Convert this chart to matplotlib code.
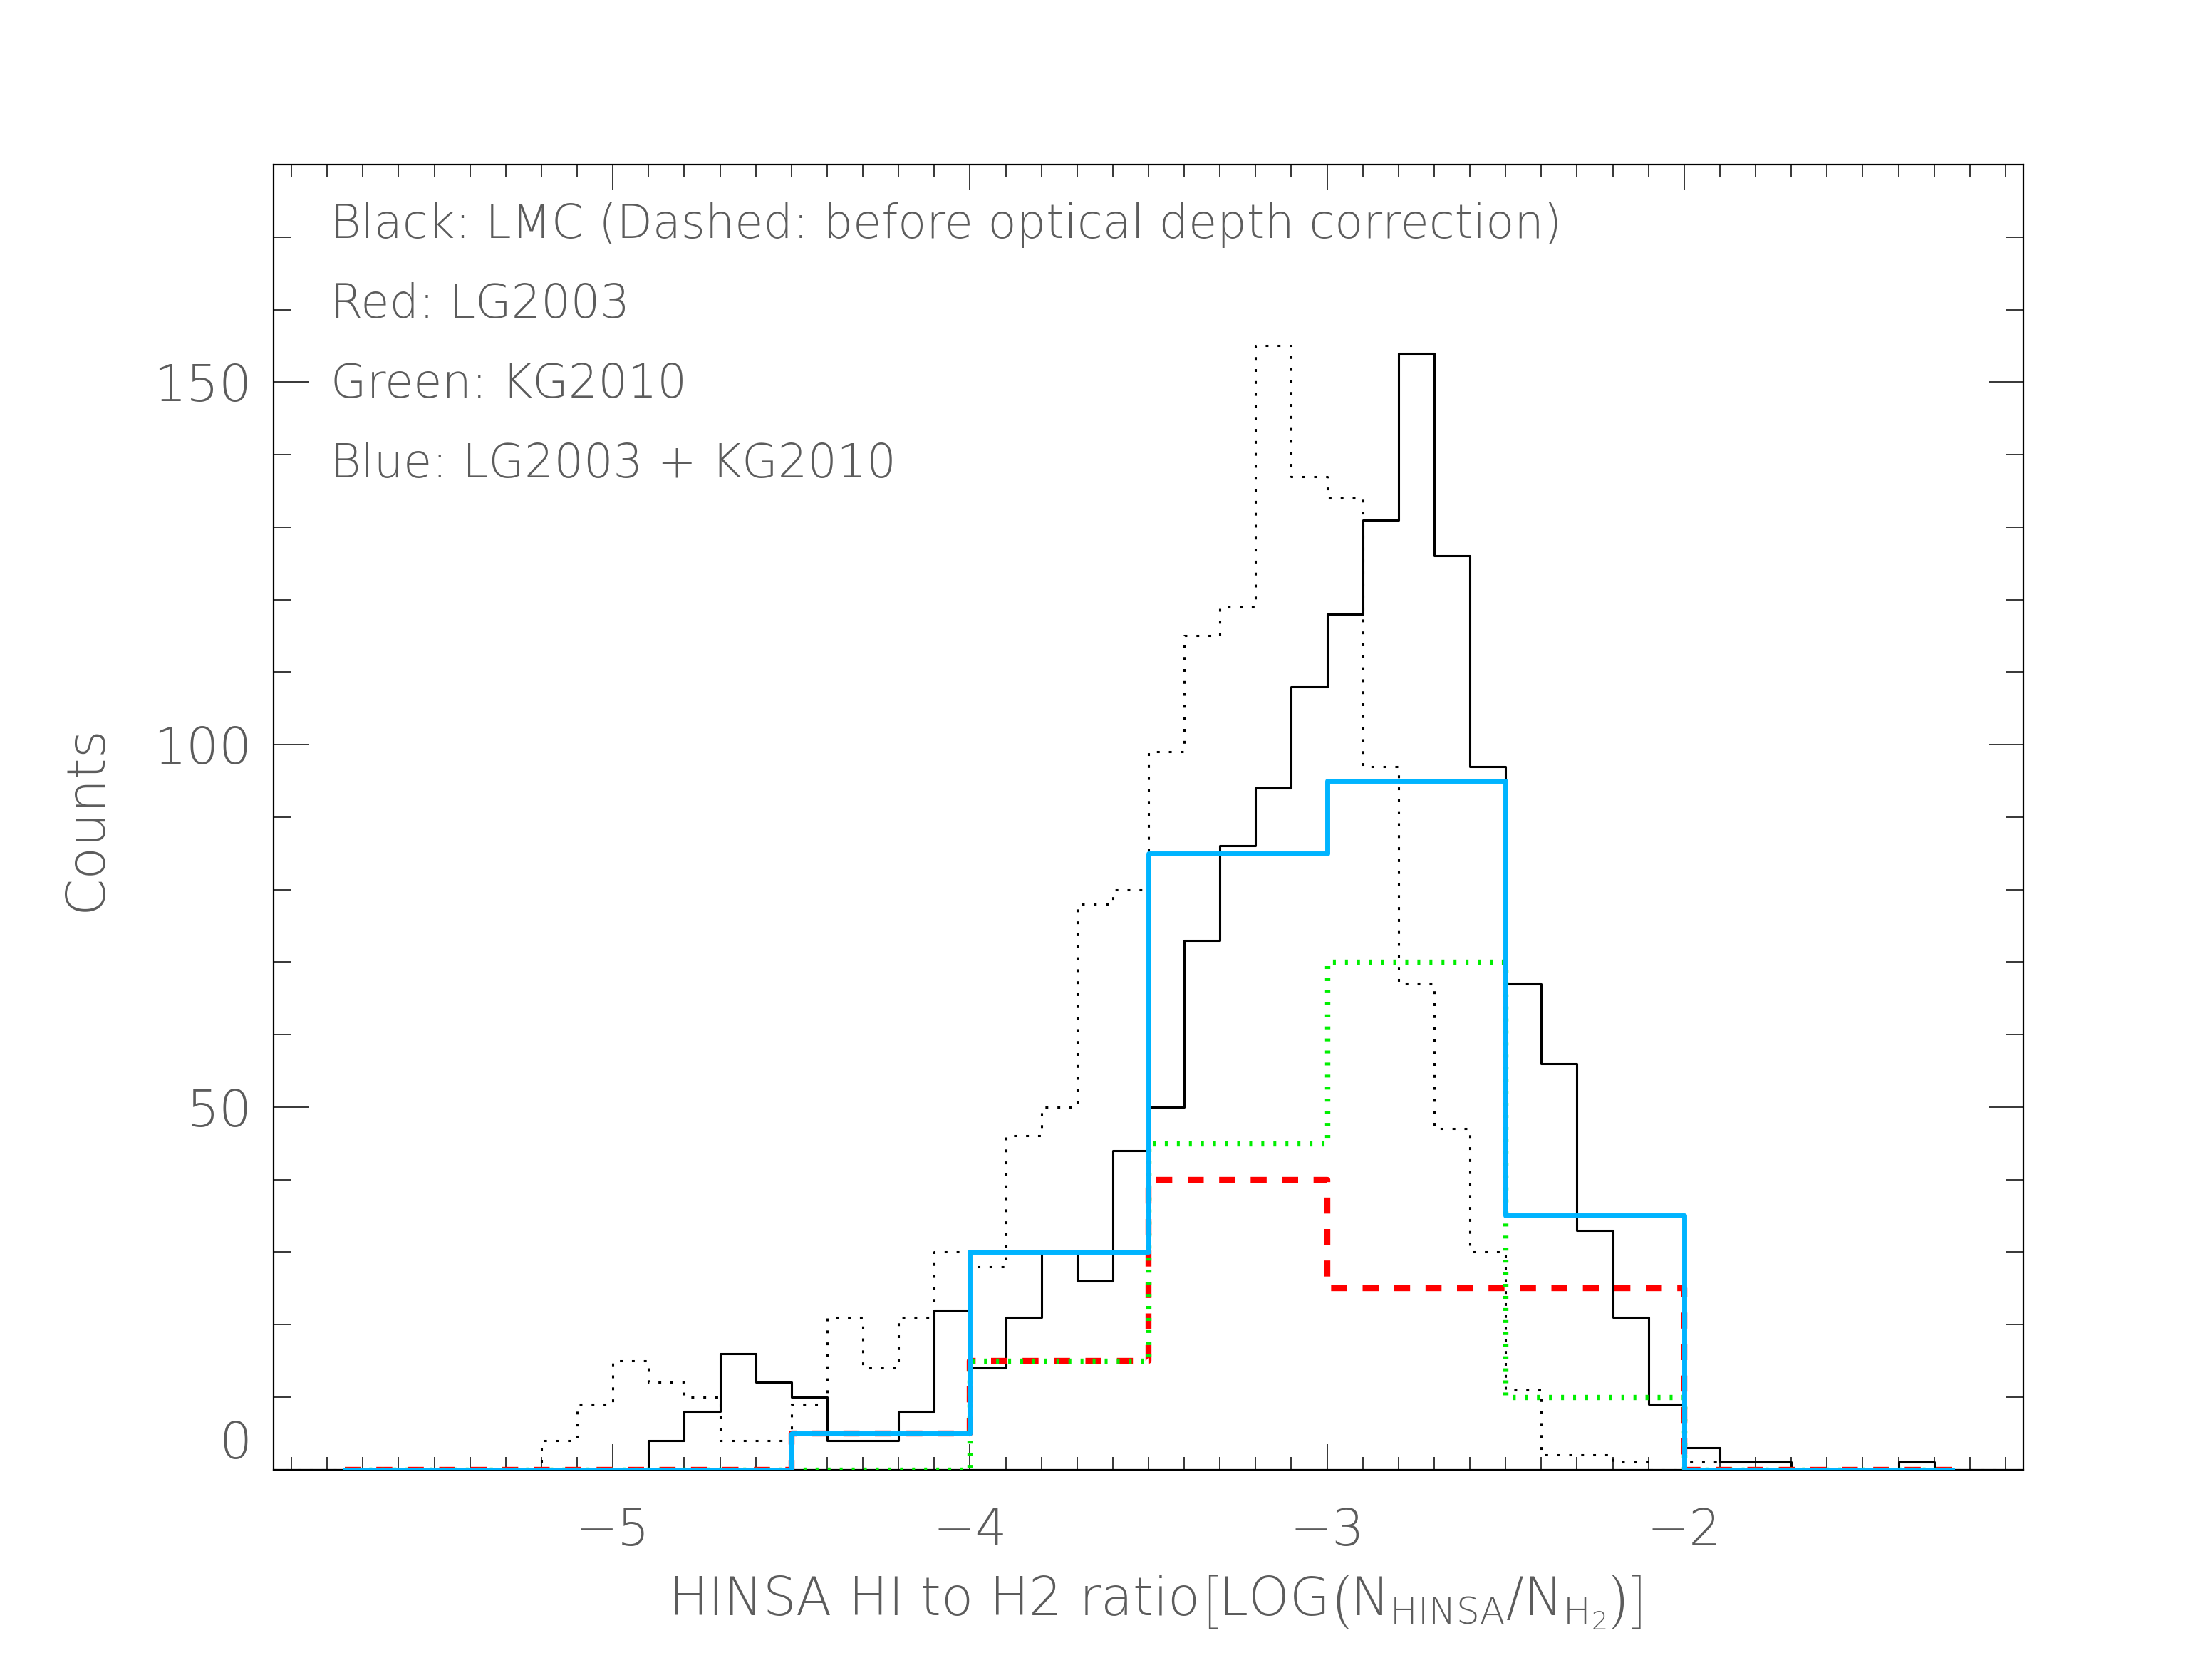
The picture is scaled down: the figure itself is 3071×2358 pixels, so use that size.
import numpy as np
import matplotlib
matplotlib.use("Agg")
import matplotlib.pyplot as plt
from matplotlib.ticker import MultipleLocator

# ---------------- data ----------------
# fine bins (0.1 dex), bin centres
lmc_centers = np.round(np.arange(-5.95, -1.0, 0.1), 2)
lmc_counts = [0, 0, 0, 0, 0, 0, 0, 0, 0, 0, 0,
              4, 8, 16, 12, 10, 4, 4, 8, 22, 14,
              21, 30, 26, 44, 50, 73, 86, 94, 108, 118,
              131, 154, 126, 97, 67, 56, 33, 21, 9, 3,
              1, 1, 0, 0, 0, 1, 0, 0, 0]
lmc_before_counts = [0, 0, 0, 0, 0, 0, 0, 0, 4, 9, 15,
                     12, 10, 4, 4, 9, 21, 14, 21, 30, 28,
                     46, 50, 78, 80, 99, 115, 119, 155, 137, 134,
                     97, 67, 47, 30, 11, 2, 2, 1, 0, 1,
                     0, 0, 0, 0, 0, 0, 0, 0, 0]

# coarse bins (0.5 dex), bin centres
coarse_centers = [-5.75, -5.25, -4.75, -4.25, -3.75, -3.25, -2.75, -2.25, -1.75, -1.25]
lg2003_counts = [0, 0, 0, 5, 15, 40, 25, 25, 0, 0]
kg2010_counts = [0, 0, 0, 0, 15, 45, 70, 10, 0, 0]
combined_counts = [0, 0, 0, 5, 30, 85, 95, 35, 0, 0]

legend_lines = ["Black: LMC (Dashed: before optical depth correction)",
                "Red: LG2003",
                "Green: KG2010",
                "Blue: LG2003 + KG2010"]

# ---------------- style ----------------
FONT = "DejaVu Sans"
TXT = "#5c5c5c"
WT = 200
plt.rcParams["font.family"] = [FONT]
plt.rcParams["font.weight"] = WT
plt.rcParams["mathtext.fontset"] = "custom"
plt.rcParams["mathtext.rm"] = FONT + ":weight=200"
plt.rcParams["mathtext.it"] = FONT + ":weight=200"
plt.rcParams["mathtext.bf"] = FONT + ":weight=200"

W, H = 3071, 2358
fig = plt.figure(figsize=(W / 100, H / 100), dpi=100)
L, R, T, B = 384, 2840, 231, 2062.5
ax = fig.add_axes([L / W, 1 - B / H, (R - L) / W, (B - T) / H])

ax.step(lmc_centers, lmc_counts, where="mid", color="black", lw=2.2, zorder=2)
ax.step(lmc_centers, lmc_before_counts, where="mid", color="black", lw=2.2,
        linestyle=(0, (1.3, 4.2)), zorder=2)
ax.step(coarse_centers, lg2003_counts, where="mid", color="#ff0000", lw=6.0,
        linestyle=(0, (2.7, 2.6)), zorder=3)
ax.step(coarse_centers, kg2010_counts, where="mid", color="#00ee00", lw=5.3,
        linestyle=(0, (0.55, 1.75)), zorder=4)
ax.step(coarse_centers, combined_counts, where="mid", color="#00b4ff", lw=5.0, zorder=5)

ax.set_xlim(-5.95, -1.05)
ax.set_ylim(0, 180)
ax.set_xticks([-5, -4, -3, -2])
ax.set_yticks([0, 50, 100, 150])
ax.xaxis.set_minor_locator(MultipleLocator(0.1))
ax.yaxis.set_minor_locator(MultipleLocator(10))
ax.tick_params(which="both", direction="in", top=True, right=True, color="black")
ax.tick_params(axis="x", which="major", length=26, width=1.1, pad=38,
               labelsize=51, labelcolor=TXT)
ax.tick_params(axis="x", which="minor", length=13, width=1.1)
ax.tick_params(axis="y", which="major", length=35, width=1.1, pad=22,
               labelsize=52, labelcolor=TXT)
ax.tick_params(axis="y", which="minor", length=18, width=1.1)
for s in ax.spines.values():
    s.set_linewidth(1.6)
ylabels = ax.get_yticklabels()
ylabels[0].set_verticalalignment("bottom")

# legend text
for i, txt in enumerate(legend_lines):
    yb = 334 + i * 112
    ax.text((464 - L) / (R - L), (B - yb) / (B - T), txt, transform=ax.transAxes,
            fontsize=47, color=TXT, ha="left", va="baseline", fontweight=WT)

# axis labels
fig.text(121 / W, 1 - 1148 / H, "Counts", rotation=90, ha="center", va="center",
         fontsize=54, color=TXT, fontweight=WT)
fig.text(1621 / W, 1 - 2267 / H,
         r"HINSA HI to H2 ratio$\left[\mathrm{LOG}\left(\mathrm{N}_{\mathrm{HINSA}}/\mathrm{N}_{\mathrm{H}_{2}}\right)\right]$",
         ha="center", va="baseline", fontsize=53, color=TXT, fontweight=WT)

fig.savefig("out.png", dpi=100, facecolor="white")
